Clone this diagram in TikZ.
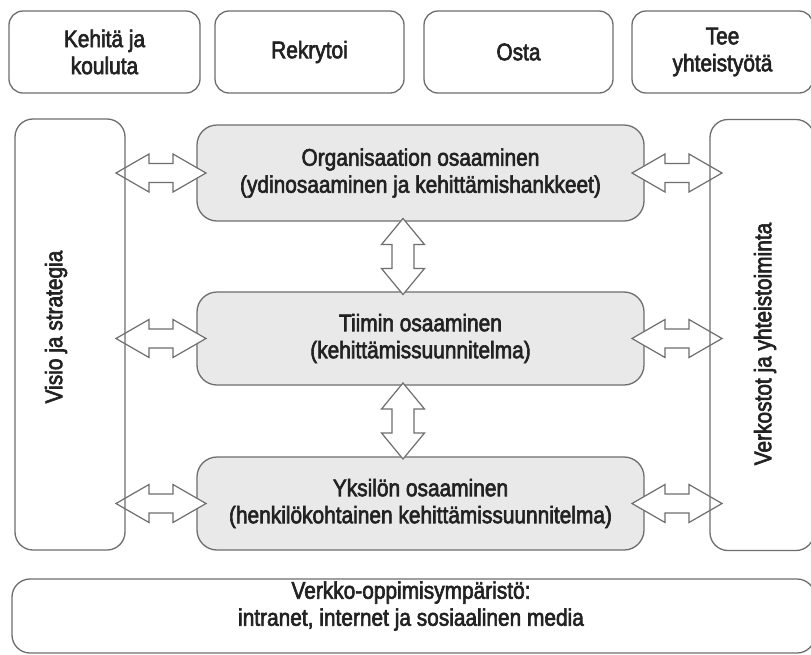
\documentclass[tikz,border=0pt]{standalone}
\usepackage{fontspec}
\setmainfont{Liberation Sans}[FakeStretch=0.87, FakeBold=2.5]
\usetikzlibrary{calc}
\definecolor{boxgray}{HTML}{6E6E6E}
\definecolor{midfill}{HTML}{E9E9E9}
\definecolor{txt}{HTML}{222222}
\pgfdeclarelayer{front}
\pgfsetlayers{main,front}
\tikzset{
  lbl/.style={font=\fontsize{24}{27}\selectfont, text=txt, align=center, inner sep=0pt},
  topbox/.style={draw=boxgray, line width=1.3pt, rounded corners=14pt, fill=white,
    minimum height=82pt, lbl},
  tallbox/.style={draw=boxgray, line width=1.3pt, rounded corners=18pt, fill=none,
    minimum width=#1, minimum height=431pt, inner sep=0pt},
  midbox/.style={draw=boxgray, line width=1.3pt, rounded corners=20pt, fill=midfill,
    minimum width=447pt, lbl},
  basebox/.style={draw=boxgray, line width=1.3pt, rounded corners=18pt, fill=white,
    minimum width=803pt, minimum height=74pt, inner sep=0pt},
  arrline/.style={draw=boxgray, line width=1.2pt, fill=white, line join=miter},
  pics/harr/.style={code={
    \draw[arrline] (-45,0) -- (-12,19) -- (-12,9.5) -- (12,9.5) -- (12,19) -- (45,0)
      -- (12,-19) -- (12,-9.5) -- (-12,-9.5) -- (-12,-19) -- cycle;}},
  pics/varr/.style={code={
    \draw[arrline] (0,-38) -- (21.5,-12) -- (11,-12) -- (11,12) -- (21.5,12) -- (0,38)
      -- (-21.5,12) -- (-11,12) -- (-11,-12) -- (-21.5,-12) -- cycle;}},
}
\begin{document}
\begin{tikzpicture}[x=1pt, y=-1pt]
\useasboundingbox (0,0) rectangle (811,654);
\fill[white] (0,0) rectangle (811,654);

% top row
\node[topbox, minimum width=191pt] (kehita) at (104.5,52) {Kehitä ja\\kouluta};
\node[topbox, minimum width=189pt] (rekry) at (309.5,52) {Rekrytoi};
\node[topbox, minimum width=189pt] (osta) at (518.5,52) {Osta};
\node[topbox, minimum width=181pt] (tee) at (722.5,52) {Tee\\yhteistyötä};

% tall side boxes (outlines on front layer)
\begin{pgfonlayer}{front}
\node[tallbox=110pt] (visio) at (70,334.5) {};
\node[tallbox=104pt] (verk) at (762,335) {};
\end{pgfonlayer}
\node[lbl, rotate=90] (visioT) at (56,327) {Visio ja strategia};
\node[lbl, rotate=90] (verkT) at (765,344) {Verkostot ja yhteistoiminta};

% middle boxes
\node[midbox, minimum height=96pt] (org) at (420.5,173)
  {Organisaation osaaminen\\(ydinosaaminen ja kehittämishankkeet)};
\node[midbox, minimum height=93pt] (tiim) at (420.5,338.5)
  {Tiimin osaaminen\\(kehittämissuunnitelma)};
\node[midbox, minimum height=93pt] (yks) at (420.5,503.5)
  {Yksilön osaaminen\\(henkilökohtainen kehittämissuunnitelma)};

% bottom box
\node[basebox] (verkko) at (413.5,616) {};
\node[lbl] (verkkoT) at (411,606) {Verkko-oppimisympäristö:\\intranet, internet ja sosiaalinen media};

% double arrows
\foreach \m in {org,tiim,yks}{
  \pic at ($(visio.east |- \m.west)!0.5!(\m.west)$) {harr};
  \pic at ($(\m.east)!0.5!(verk.west |- \m.east)$) {harr};
}
\pic at ($(org.south)!0.5!(tiim.north) + (-17.5,0)$) {varr};
\pic at ($(tiim.south)!0.5!(yks.north) + (-17.5,0)$) {varr};
\end{tikzpicture}
\end{document}
